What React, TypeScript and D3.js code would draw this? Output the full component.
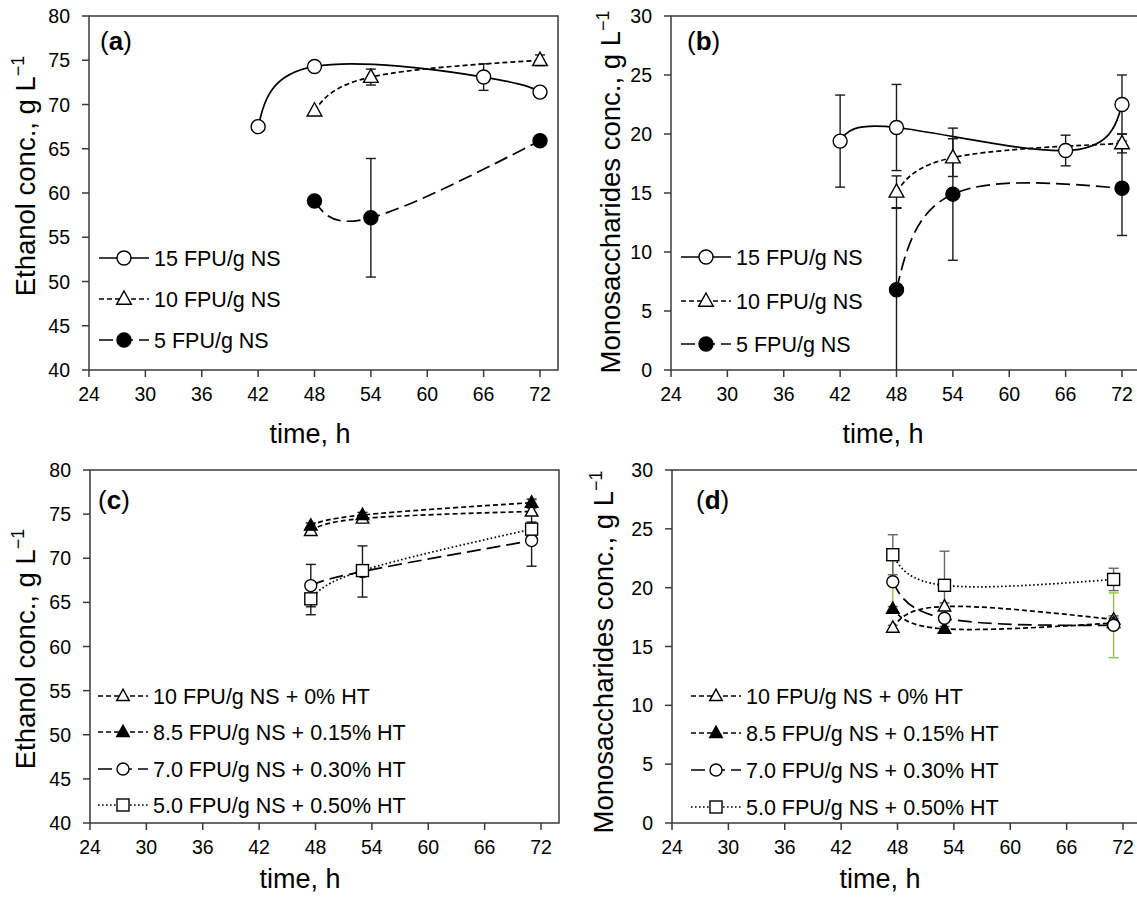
import React from 'react';
import * as d3 from 'd3';

const W = 1137;
const H = 903;
const FONT = "Arial, 'Liberation Sans', sans-serif";

// ---------- Data ----------
const xTicks = [24, 30, 36, 42, 48, 54, 60, 66, 72];
const ethanolTicks = [40, 45, 50, 55, 60, 65, 70, 75, 80];
const monoTicks = [0, 5, 10, 15, 20, 25, 30];

// Panel (a) – ethanol, enzyme loading
const a15x = [42, 48, 66, 72];
const a15y = [67.5, 74.3, 73.1, 71.4];
const a15e = [0, 0.5, 1.5, 0.3];
const a10x = [48, 54, 72];
const a10y = [69.3, 73.1, 75.0];
const a10e = [0, 0.9, 0.6];
const a5x = [48, 54, 72];
const a5y = [59.1, 57.2, 65.9];
const a5e = [0, 6.7, 0.4];

// Panel (b) – monosaccharides, enzyme loading
const b15x = [42, 48, 66, 72];
const b15y = [19.4, 20.55, 18.6, 22.5];
const b15e = [3.9, 3.65, 1.3, 2.5];
const b10x = [48, 54, 72];
const b10y = [15.1, 18.0, 19.2];
const b10e = [1.35, 1.6, 0.8];
const b5x = [48, 54, 72];
const b5y = [6.8, 14.9, 15.4];
const b5e = [6.9, 5.6, 4.0];

// Panels (c), (d) – enzyme + HT
const hx = [47.5, 53, 71];
const c10y = [73.1, 74.5, 75.3];
const c10e = [0.3, 0.3, 0.4];
const c85y = [73.7, 74.9, 76.3];
const c85e = [0.3, 0.3, 0.4];
const c70y = [66.9, 68.5, 72.0];
const c70e = [2.4, 2.9, 2.9];
const c50y = [65.4, 68.6, 73.3];
const c50e = [1.8, 0.5, 0.8];

const d10y = [16.6, 18.4, 17.3];
const d10e = [0.2, 0.3, 0.3];
const d85y = [18.2, 16.5, 17.0];
const d85e = [0.2, 0.2, 0.4];
const d70y = [20.5, 17.4, 16.8];
const d70e = [2.4, 0.3, 2.75];
const d50y = [22.8, 20.2, 20.7];
const d50e = [1.7, 2.9, 0.95];

const labelsAB = ['15 FPU/g NS', '10 FPU/g NS', '5 FPU/g NS'];
const labelsCD = [
  '10 FPU/g NS + 0% HT',
  '8.5 FPU/g NS + 0.15% HT',
  '7.0 FPU/g NS + 0.30% HT',
  '5.0 FPU/g NS + 0.50% HT',
];

// ---------- Styles ----------
type MarkerKind = 'circleOpen' | 'circleFilled' | 'triOpen' | 'triFilled' | 'squareOpen';
const SOLID = '';
const SHORT = '5,3';
const LONG = '14,6';
const DOT = '1.6,2.4';

interface Series {
  x: number[];
  y: number[];
  e: number[];
  marker: MarkerKind;
  dash: string;
  errColor: string;
  label: string;
}

function Marker({ kind, x, y, s }: { kind: MarkerKind; x: number; y: number; s: number }) {
  const sw = 1.4;
  if (kind === 'circleOpen' || kind === 'circleFilled') {
    return (
      <circle cx={x} cy={y} r={s / 2} fill={kind === 'circleFilled' ? '#000' : '#fff'} stroke="#000" strokeWidth={sw} />
    );
  }
  if (kind === 'squareOpen') {
    return <rect x={x - s / 2} y={y - s / 2} width={s} height={s} fill="#fff" stroke="#000" strokeWidth={sw} />;
  }
  const w = s * 1.05;
  const h = s * 0.95;
  const p = `M${x},${y - h * 0.6}L${x + w / 2},${y + h * 0.4}L${x - w / 2},${y + h * 0.4}Z`;
  return <path d={p} fill={kind === 'triFilled' ? '#000' : '#fff'} stroke="#000" strokeWidth={sw} />;
}

interface PanelProps {
  id: string;
  left: number;
  top: number;
  bottom: number;
  yDomain: [number, number];
  yTicks: number[];
  series: Series[];
  markerSize: number;
  legendRows: number[];
  legendX: number;
  letter: string;
  letterX: number;
  letterY: number;
  yTitle: string;
  yTitleX: number;
  yTitleY: number;
  xTitleX: number;
  xTitleY: number;
}

function Panel(p: PanelProps) {
  const span = 451;
  const right = p.left + 469;
  const x = d3.scaleLinear().domain([24, 72]).range([p.left, p.left + span]);
  const y = d3.scaleLinear().domain(p.yDomain).range([p.bottom, p.top]);
  const line = d3
    .line<[number, number]>()
    .x((d) => x(d[0]))
    .y((d) => y(d[1]))
    .curve(d3.curveNatural);
  const axisColor = '#3a3a3a';
  const clipId = `clip-${p.id}`;
  const cap = 5;
  const lx0 = p.legendX;
  const lx1 = p.legendX + 50;
  const lxm = p.legendX + 25;
  return (
    <g>
      <defs>
        <clipPath id={clipId}>
          <rect x={p.left} y={p.top} width={right - p.left} height={p.bottom - p.top} />
        </clipPath>
      </defs>
      {/* frame */}
      <rect x={p.left} y={p.top} width={right - p.left} height={p.bottom - p.top} fill="none" stroke={axisColor} strokeWidth={1.5} />
      {/* y ticks */}
      {p.yTicks.map((t) => (
        <g key={`y${t}`}>
          <line x1={p.left - 7} x2={p.left} y1={y(t)} y2={y(t)} stroke={axisColor} strokeWidth={1.5} />
          <text x={p.left - 19} y={y(t) + 7} textAnchor="end" fontSize={19.5} fontFamily={FONT} fill="#000">
            {t}
          </text>
        </g>
      ))}
      {/* x ticks */}
      {xTicks.map((t) => (
        <g key={`x${t}`}>
          <line x1={x(t)} x2={x(t)} y1={p.bottom} y2={p.bottom + 7} stroke={axisColor} strokeWidth={1.5} />
          <text x={x(t)} y={p.bottom + 31} textAnchor="middle" fontSize={19.5} fontFamily={FONT} fill="#000">
            {t}
          </text>
        </g>
      ))}
      {/* lines */}
      <g clipPath={`url(#${clipId})`}>
        {p.series.map((s, i) => (
          <path
            key={`l${i}`}
            d={line(s.x.map((v, j) => [v, s.y[j]] as [number, number])) || ''}
            fill="none"
            stroke="#000"
            strokeWidth={1.7}
            strokeDasharray={s.dash || undefined}
          />
        ))}
        {/* error bars */}
        {p.series.map((s, i) =>
          s.x.map((v, j) =>
            s.e[j] > 0 ? (
              <g key={`e${i}-${j}`} stroke={s.errColor} strokeWidth={1.4}>
                <line x1={x(v)} x2={x(v)} y1={y(s.y[j] - s.e[j])} y2={y(s.y[j] + s.e[j])} />
                <line x1={x(v) - cap} x2={x(v) + cap} y1={y(s.y[j] + s.e[j])} y2={y(s.y[j] + s.e[j])} />
                <line x1={x(v) - cap} x2={x(v) + cap} y1={y(s.y[j] - s.e[j])} y2={y(s.y[j] - s.e[j])} />
              </g>
            ) : null
          )
        )}
        {/* markers */}
        {p.series.map((s, i) =>
          s.x.map((v, j) => <Marker key={`m${i}-${j}`} kind={s.marker} x={x(v)} y={y(s.y[j])} s={p.markerSize} />)
        )}
      </g>
      {/* legend */}
      {p.series.map((s, i) => (
        <g key={`lg${i}`}>
          <line x1={lx0} x2={lx1} y1={p.legendRows[i]} y2={p.legendRows[i]} stroke="#000" strokeWidth={1.7} strokeDasharray={s.dash || undefined} />
          <Marker kind={s.marker} x={lxm} y={p.legendRows[i]} s={p.markerSize} />
          <text x={lx1 + 5} y={p.legendRows[i] + 7.5} fontSize={21.5} fontFamily={FONT} fill="#000">
            {s.label}
          </text>
        </g>
      ))}
      {/* panel letter */}
      <text x={p.letterX} y={p.letterY} fontSize={26} fontFamily={FONT} fill="#000">
        (<tspan fontWeight="bold">{p.letter}</tspan>)
      </text>
      {/* titles */}
      <text
        transform={`translate(${p.yTitleX},${p.yTitleY}) rotate(-90)`}
        textAnchor="middle"
        fontSize={27.5}
        fontFamily={FONT}
        fill="#000"
      >
        {p.yTitle}
        <tspan fontSize={18} dy={-11}>
          −1
        </tspan>
      </text>
      <text x={p.xTitleX} y={p.xTitleY} textAnchor="middle" fontSize={27} fontFamily={FONT} fill="#000">
        time, h
      </text>
    </g>
  );
}

const mk = (x: number[], y: number[], e: number[], marker: MarkerKind, dash: string, label: string, errColor = '#1a1a1a'): Series => ({
  x,
  y,
  e,
  marker,
  dash,
  label,
  errColor,
});

export default function App() {
  const seriesA = [
    mk(a15x, a15y, a15e, 'circleOpen', SOLID, labelsAB[0]),
    mk(a10x, a10y, a10e, 'triOpen', SHORT, labelsAB[1]),
    mk(a5x, a5y, a5e, 'circleFilled', LONG, labelsAB[2]),
  ];
  const seriesB = [
    mk(b15x, b15y, b15e, 'circleOpen', SOLID, labelsAB[0]),
    mk(b10x, b10y, b10e, 'triOpen', SHORT, labelsAB[1]),
    mk(b5x, b5y, b5e, 'circleFilled', LONG, labelsAB[2]),
  ];
  const seriesC = [
    mk(hx, c10y, c10e, 'triOpen', SHORT, labelsCD[0]),
    mk(hx, c85y, c85e, 'triFilled', SHORT, labelsCD[1]),
    mk(hx, c70y, c70e, 'circleOpen', LONG, labelsCD[2]),
    mk(hx, c50y, c50e, 'squareOpen', DOT, labelsCD[3]),
  ];
  const seriesD = [
    mk(hx, d10y, d10e, 'triOpen', SHORT, labelsCD[0], '#555'),
    mk(hx, d85y, d85e, 'triFilled', SHORT, labelsCD[1], '#555'),
    mk(hx, d70y, d70e, 'circleOpen', LONG, labelsCD[2], '#8dc63f'),
    mk(hx, d50y, d50e, 'squareOpen', DOT, labelsCD[3], '#666'),
  ];
  return (
    <svg width={W} height={H} viewBox={`0 0 ${W} ${H}`} style={{ display: 'block', position: 'absolute', left: 0, top: 0, background: '#fff' }}>
      <rect x={0} y={0} width={W} height={H} fill="#fff" />
      <Panel
        id="a"
        left={89}
        top={16}
        bottom={370}
        yDomain={[40, 80]}
        yTicks={ethanolTicks}
        series={seriesA}
        markerSize={14}
        legendRows={[258, 299, 340]}
        legendX={99}
        letter="a"
        letterX={100}
        letterY={50}
        yTitle="Ethanol conc., g L"
        yTitleX={35}
        yTitleY={176}
        xTitleX={310}
        xTitleY={443}
      />
      <Panel
        id="b"
        left={671}
        top={16}
        bottom={370}
        yDomain={[0, 30]}
        yTicks={monoTicks}
        series={seriesB}
        markerSize={14}
        legendRows={[257, 301, 344]}
        legendX={681}
        letter="b"
        letterX={687}
        letterY={50}
        yTitle="Monosaccharides conc., g L"
        yTitleX={620}
        yTitleY={192}
        xTitleX={883}
        xTitleY={443}
      />
      <Panel
        id="c"
        left={90}
        top={470}
        bottom={823}
        yDomain={[40, 80]}
        yTicks={ethanolTicks}
        series={seriesC}
        markerSize={12}
        legendRows={[696, 732, 769, 805]}
        legendX={98}
        letter="c"
        letterX={98}
        letterY={509}
        yTitle="Ethanol conc., g L"
        yTitleX={35}
        yTitleY={649}
        xTitleX={300}
        xTitleY={888}
      />
      <Panel
        id="d"
        left={672}
        top={470}
        bottom={823}
        yDomain={[0, 30]}
        yTicks={monoTicks}
        series={seriesD}
        markerSize={12}
        legendRows={[696, 733, 770, 807]}
        legendX={691}
        letter="d"
        letterX={696}
        letterY={509}
        yTitle="Monosaccharides conc., g L"
        yTitleX={613}
        yTitleY={652}
        xTitleX={880}
        xTitleY={888}
      />
    </svg>
  );
}
